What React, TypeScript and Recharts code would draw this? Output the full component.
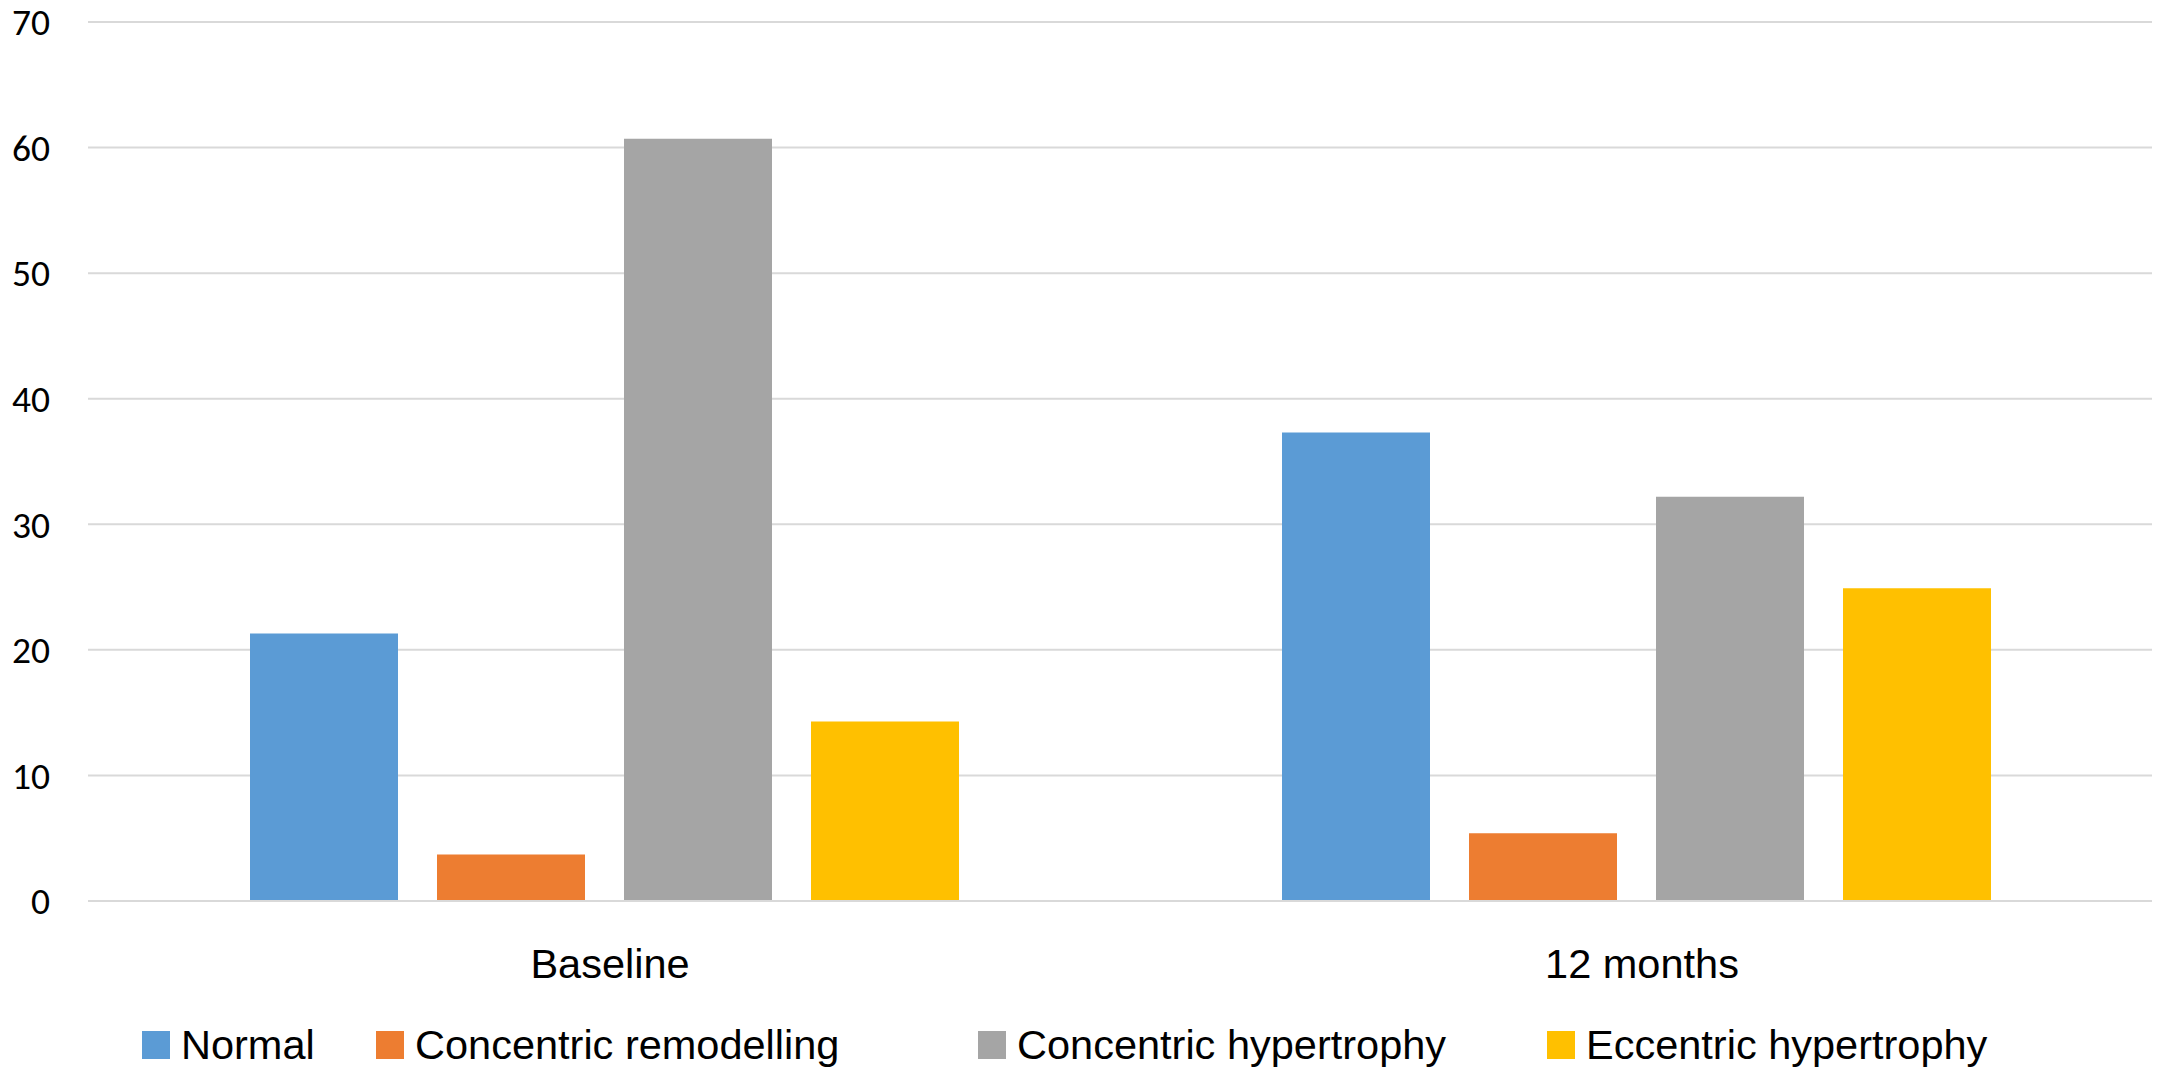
import React from 'react';
import { BarChart, Bar, XAxis, YAxis, CartesianGrid, Legend } from 'recharts';

const categories = ['Baseline', '12 months'];
const normal = [21.3, 37.3];
const concentricRemodelling = [3.7, 5.4];
const concentricHypertrophy = [60.7, 32.2];
const eccentricHypertrophy = [14.3, 24.9];
const yTicks = [0, 10, 20, 30, 40, 50, 60, 70];

const seriesNames = ['Normal', 'Concentric remodelling', 'Concentric hypertrophy', 'Eccentric hypertrophy'];
const seriesKeys = ['normal', 'cr', 'ch', 'eh'];
const seriesColors = ['#5B9BD5', '#ED7D31', '#A5A5A5', '#FFC000'];

const data = categories.map((c, i) => ({
  name: c,
  normal: normal[i],
  cr: concentricRemodelling[i],
  ch: concentricHypertrophy[i],
  eh: eccentricHypertrophy[i],
}));

// layout only: left offset of each legend item within the chart
const legendLeft = [134, 368, 970, 1539];

const renderLegend = (props: any) => {
  const payload = [...(props.payload || [])].sort(
    (a: any, b: any) => seriesNames.indexOf(a.value) - seriesNames.indexOf(b.value)
  );
  return (
    <div style={{ position: 'relative', height: 40, width: 2151 }}>
      {payload.map((p: any) => {
        const i = seriesNames.indexOf(p.value);
        return (
          <div
            key={p.value}
            style={{
              position: 'absolute',
              left: legendLeft[i],
              top: 0,
              height: 40,
              display: 'flex',
              alignItems: 'center',
              whiteSpace: 'nowrap',
            }}
          >
            <span style={{ display: 'inline-block', width: 28, height: 28, background: p.color, marginRight: 11 }} />
            <span
              style={{
                fontFamily: '"Liberation Sans", Arial, sans-serif',
                fontSize: 41.5,
                lineHeight: '40px',
                color: '#000',
              }}
            >
              {p.value}
            </span>
          </div>
        );
      })}
    </div>
  );
};

export default function App() {
  return (
    <div style={{ width: 2151, height: 1067, background: '#fff' }}>
      <BarChart
        width={2151}
        height={1067}
        data={data}
        margin={{ top: 14, right: 7, bottom: 74, left: 0 }}
        barGap={39}
        barSize={148}
      >
        <CartesianGrid vertical={false} stroke="#D9D9D9" strokeWidth={2} />
        <XAxis
          dataKey="name"
          height={100}
          tickSize={0}
          tickMargin={47.5}
          axisLine={{ stroke: '#D9D9D9', strokeWidth: 2 }}
          tickLine={false}
          tick={{ fill: '#000', fontSize: 41.5, fontFamily: '"Liberation Sans", Arial, sans-serif', dx: 6 }}
        />
        <YAxis
          width={80}
          domain={[0, 70]}
          ticks={yTicks}
          interval={0}
          tickSize={0}
          tickMargin={38}
          axisLine={false}
          tickLine={false}
          tick={{ fill: '#000', fontSize: 37.5, fontFamily: 'Carlito, Lato, sans-serif' }}
        />
        <Legend
          layout="horizontal"
          verticalAlign="middle"
          align="center"
          wrapperStyle={{ top: 1017, left: 0, width: 2151, height: 40 }}
          content={renderLegend}
        />
        {seriesKeys.map((k, i) => (
          <Bar key={k} dataKey={k} name={seriesNames[i]} fill={seriesColors[i]} isAnimationActive={false} />
        ))}
      </BarChart>
    </div>
  );
}
